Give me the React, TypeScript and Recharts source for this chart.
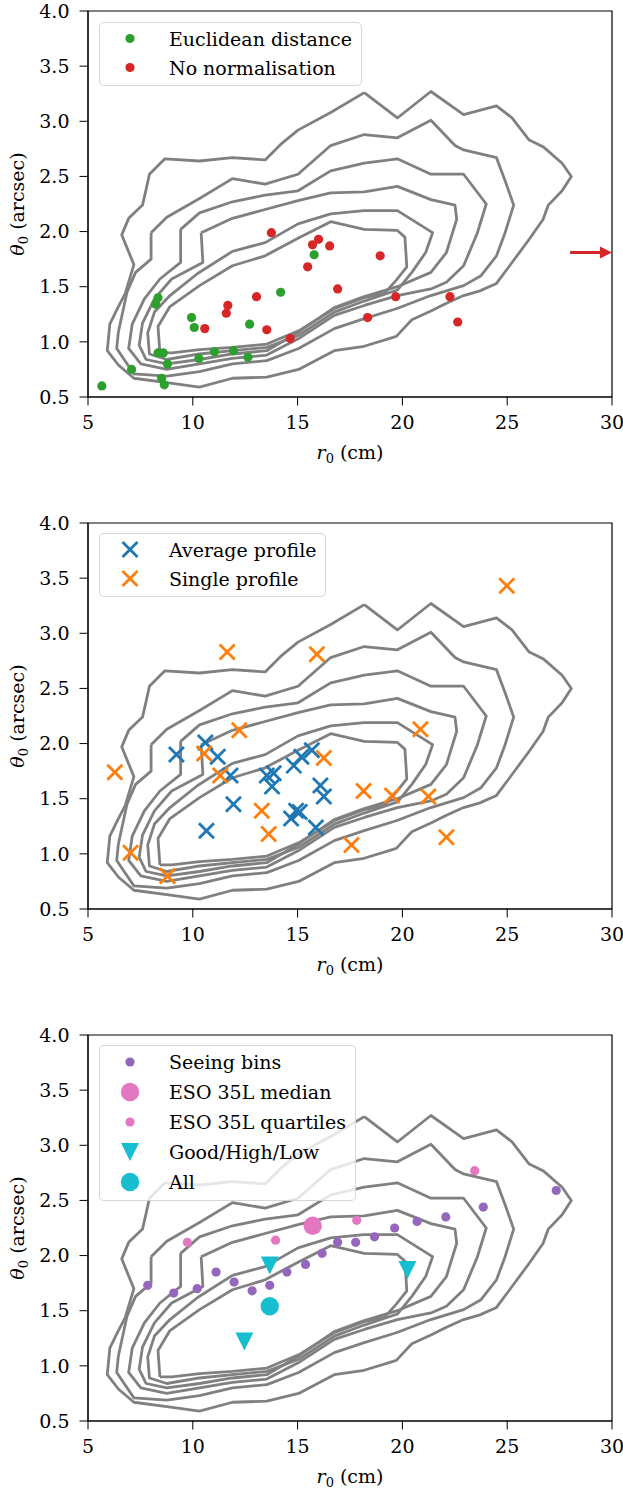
import { Legend, ReferenceArea, Scatter, ScatterChart, XAxis, YAxis } from "recharts";

const FONT = "'DejaVu Serif', serif";
const GREY = "#808080";

// axis ticks
const xTicks = [5, 10, 15, 20, 25, 30];
const yTicks = [0.5, 1.0, 1.5, 2.0, 2.5, 3.0, 3.5, 4.0];

// density contours (r0 cm, theta0 arcsec), outermost first
const contour1 = [[18.18,3.26],[19.76,3.03],[21.36,3.27],[22.92,3.06],[24.49,3.14],[25.23,3.03],[26.05,2.83],[26.71,2.77],[27.62,2.62],[28.06,2.5],[27.62,2.37],[26.96,2.24],[26.71,2.11],[26.05,1.93],[25.31,1.74],[24.49,1.53],[23.67,1.46],[22.92,1.42],[22.1,1.35],[21.36,1.28],[20.45,1.2],[19.71,1.05],[18.18,0.96],[16.75,0.92],[15.05,0.75],[13.53,0.68],[11.89,0.67],[10.32,0.59],[8.76,0.63],[7.19,0.67],[6.45,0.79],[5.92,0.92],[6.04,1.16],[6.45,1.32],[6.78,1.44],[7.19,1.7],[6.61,1.97],[6.94,2.12],[7.6,2.24],[7.77,2.38],[7.93,2.52],[8.67,2.66],[10.32,2.64],[11.89,2.67],[13.45,2.65],[14.19,2.79],[15.02,2.92],[16.58,3.08]];
const contour2 = [[8.01,1.99],[8.76,2.13],[10.32,2.3],[11.89,2.48],[13.45,2.43],[15.02,2.52],[16.58,2.78],[18.18,2.88],[19.76,2.85],[21.36,3.01],[22.51,2.78],[22.92,2.74],[24.49,2.67],[24.9,2.46],[25.31,2.24],[24.9,1.99],[24.49,1.78],[23.75,1.6],[22.92,1.51],[21.36,1.42],[19.71,1.3],[18.18,1.21],[16.75,1.12],[15.05,0.94],[13.53,0.83],[11.89,0.8],[10.32,0.73],[8.76,0.69],[7.19,0.71],[6.37,0.94],[6.45,1.09],[6.86,1.45],[7.27,1.63],[8.01,1.75]];
const contour3 = [[9.42,2.02],[10.32,2.17],[11.89,2.27],[13.45,2.33],[15.02,2.37],[16.58,2.55],[18.18,2.62],[19.76,2.66],[21.36,2.52],[22.92,2.52],[24.0,2.25],[23.58,1.99],[22.92,1.69],[22.1,1.54],[21.36,1.48],[19.76,1.42],[18.18,1.33],[16.75,1.24],[15.05,1.03],[13.53,0.88],[11.89,0.85],[10.32,0.8],[8.76,0.75],[7.52,0.8],[6.94,0.94],[7.11,1.16],[7.69,1.39],[8.43,1.57],[9.42,1.72]];
const contour4 = [[10.4,1.99],[11.89,2.12],[13.45,2.2],[15.02,2.28],[16.58,2.35],[18.18,2.36],[19.76,2.41],[21.36,2.29],[22.51,2.24],[22.59,2.11],[22.1,1.81],[21.36,1.63],[19.76,1.5],[18.18,1.41],[16.75,1.31],[15.05,1.09],[13.53,0.92],[11.89,0.89],[10.32,0.84],[8.76,0.8],[7.77,0.84],[7.44,0.97],[7.6,1.17],[8.17,1.39],[8.99,1.57],[10.48,1.72]];
const contour5 = [[11.89,1.82],[13.45,1.9],[15.02,2.07],[16.58,2.16],[18.18,2.19],[19.76,2.19],[21.44,1.99],[21.11,1.81],[20.45,1.63],[19.76,1.47],[18.18,1.37],[16.75,1.27],[15.05,1.06],[13.53,0.95],[11.89,0.92],[10.32,0.89],[8.76,0.84],[7.93,0.89],[7.85,1.08],[8.17,1.27],[8.91,1.42],[10.23,1.62]];
const contour6 = [[8.43,0.9],[8.34,1.14],[8.91,1.32],[10.32,1.51],[11.89,1.69],[13.45,1.78],[15.02,1.94],[16.58,2.09],[18.18,2.02],[19.76,2.01],[20.12,1.95],[20.21,1.68],[19.71,1.56],[19.14,1.44],[18.18,1.4],[16.75,1.3],[15.05,1.1],[13.53,0.98],[11.89,0.95],[10.32,0.93],[9.0,0.9]];
const contours = [contour1, contour2, contour3, contour4, contour5, contour6];

// panel 1
const euclidean = [[5.66,0.6],[7.08,0.75],[8.51,0.67],[8.64,0.61],[8.34,1.4],[8.23,1.34],[8.34,0.9],[8.59,0.9],[8.79,0.8],[9.94,1.22],[10.07,1.13],[10.29,0.85],[11.03,0.91],[11.94,0.92],[12.63,0.86],[12.71,1.16],[14.19,1.45],[15.79,1.79]];
const noNormalisation = [[13.75,1.99],[15.71,1.88],[16.0,1.93],[16.53,1.87],[18.94,1.78],[15.48,1.68],[16.91,1.48],[13.04,1.41],[11.67,1.33],[11.6,1.26],[10.57,1.12],[13.53,1.11],[14.65,1.03],[18.34,1.22],[19.68,1.41],[22.27,1.41],[22.64,1.18]];
const offChartShaft = [[28.0,1.81],[29.5,1.81]];
const offChartHead = [[30,1.81]];

// panel 2
const averageProfile = [[9.22,1.9],[10.6,2.01],[11.19,1.88],[11.8,1.71],[11.94,1.45],[10.65,1.21],[13.53,1.71],[13.86,1.73],[13.78,1.61],[14.82,1.8],[15.18,1.88],[15.68,1.94],[16.09,1.62],[16.25,1.52],[14.93,1.39],[14.69,1.32],[15.1,1.38],[15.87,1.24]];
const singleProfile = [[24.98,3.43],[11.64,2.83],[15.92,2.81],[12.22,2.12],[20.86,2.13],[10.54,1.91],[6.28,1.74],[11.31,1.71],[16.25,1.87],[18.15,1.57],[19.51,1.53],[21.24,1.52],[13.29,1.39],[13.62,1.18],[17.57,1.08],[22.1,1.15],[7.03,1.01],[8.79,0.8]];

// panel 3
const seeingBins = [[7.85,1.73],[9.09,1.66],[10.21,1.7],[11.11,1.85],[11.97,1.76],[12.83,1.68],[13.67,1.73],[14.49,1.85],[15.38,1.92],[16.17,2.02],[16.91,2.12],[17.77,2.12],[18.67,2.17],[19.63,2.25],[20.7,2.31],[22.07,2.35],[23.86,2.44],[27.34,2.59]];
const esoMedian = [[15.72,2.27]];
const esoQuartiles = [[9.74,2.12],[13.95,2.14],[17.82,2.32],[23.45,2.77]];
const goodHighLow = [[13.67,1.91],[20.24,1.87],[12.46,1.22]];
const allNights = [[13.67,1.54]];

const pts = (arr: number[][]) => arr.map(([x, y]) => ({ x, y }));
const closed = (arr: number[][]) => pts([...arr, arr[0]]);

const COLORS = {
  green: "#2ca02c",
  red: "#d62728",
  blue: "#1f77b4",
  orange: "#ff7f0e",
  purple: "#9467bd",
  pink: "#e377c2",
  cyan: "#17becf",
};

type Marker = { kind: "dot" | "cross" | "tri"; color: string; size: number };

function drawMarker(m: Marker, cx: number, cy: number) {
  if (m.kind === "dot") return <circle cx={cx} cy={cy} r={m.size} fill={m.color} />;
  if (m.kind === "cross") {
    const s = m.size;
    return (
      <g stroke={m.color} strokeWidth={2.8}>
        <line x1={cx - s} y1={cy - s} x2={cx + s} y2={cy + s} />
        <line x1={cx - s} y1={cy + s} x2={cx + s} y2={cy - s} />
      </g>
    );
  }
  const s = m.size;
  return <polygon points={`${cx},${cy + s} ${cx - s},${cy - s} ${cx + s},${cy - s}`} fill={m.color} />;
}

const shapeOf = (m: Marker) => (p: any) => drawMarker(m, p.cx, p.cy);
const noShape = () => <g />;
const arrowHead = (p: any) => (
  <polygon points={`${p.cx},${p.cy} ${p.cx - 12},${p.cy - 6} ${p.cx - 12},${p.cy + 6}`} fill={COLORS.red} />
);

const XLabel = (props: any) => {
  const vb = props.viewBox || { x: 88, y: 397, width: 524 };
  return (
    <text x={vb.x + vb.width / 2} y={vb.y + 62} textAnchor="middle" fontFamily={FONT} fontSize={19} fill="#000">
      <tspan fontStyle="italic">r</tspan>
      <tspan fontSize={13} dy={4}>0</tspan>
      <tspan dy={-4}>{"\u00a0(cm)"}</tspan>
    </text>
  );
};

const YLabel = (props: any) => {
  const vb = props.viewBox || { y: 11, height: 386 };
  const cy = vb.y + vb.height / 2;
  return (
    <text x={24} y={cy} transform={`rotate(-90, 24, ${cy})`} textAnchor="middle" fontFamily={FONT} fontSize={19} fill="#000">
      <tspan fontStyle="italic">θ</tspan>
      <tspan fontSize={13} dy={4}>0</tspan>
      <tspan dy={-4}>{"\u00a0(arcsec)"}</tspan>
    </text>
  );
};

type Entry = { label: string; marker: Marker };

function LegendBox({ entries, rowHeight }: { entries: Entry[]; rowHeight: number }) {
  return (
    <div
      style={{
        background: "rgba(255,255,255,0.8)",
        border: "1.5px solid rgba(204,204,204,0.8)",
        borderRadius: 5,
        padding: "1px 9px 3px 12px",
        fontFamily: FONT,
        fontSize: 19,
        color: "#000",
        whiteSpace: "nowrap",
      }}
    >
      {entries.map((e) => (
        <div key={e.label} style={{ display: "flex", alignItems: "center", height: rowHeight }}>
          <svg width={36} height={rowHeight} style={{ marginRight: 21, flex: "none" }}>
            {drawMarker(e.marker, 18, rowHeight / 2)}
          </svg>
          <span>{e.label}</span>
        </div>
      ))}
    </div>
  );
}

function Panel({ children, legend, rowHeight, legendTop }: { children: any; legend: Entry[]; rowHeight: number; legendTop: number }) {
  return (
    <ScatterChart width={623} height={512} margin={{ top: 11, right: 11, bottom: 0, left: 0 }}>
      <XAxis
        type="number"
        dataKey="x"
        domain={[5, 30]}
        ticks={xTicks}
        allowDataOverflow
        height={115}
        tickSize={8.5}
        tickMargin={10}
        tick={{ fill: "#000", fontSize: 19, fontFamily: FONT }}
        axisLine={{ stroke: "#000" }}
        tickLine={{ stroke: "#000" }}
        label={<XLabel />}
      />
      <YAxis
        type="number"
        dataKey="y"
        domain={[0.5, 4]}
        ticks={yTicks}
        allowDataOverflow
        width={88}
        tickSize={8.5}
        tickMargin={10}
        tickFormatter={(v: number) => v.toFixed(1)}
        tick={{ fill: "#000", fontSize: 19, fontFamily: FONT }}
        axisLine={{ stroke: "#000" }}
        tickLine={{ stroke: "#000" }}
        label={<YLabel />}
      />
      {contours.map((c, i) => (
        <Scatter
          key={`c${i}`}
          data={closed(c)}
          line={{ stroke: GREY, strokeWidth: 2.8, strokeLinejoin: "round" }}
          shape={noShape}
          isAnimationActive={false}
        />
      ))}
      {children}
      <ReferenceArea x1={5} x2={30} y1={0.5} y2={4} fill="none" stroke="#000" strokeWidth={1.2} ifOverflow="visible" />
      <Legend
        layout="vertical"
        align="center"
        verticalAlign="middle"
        wrapperStyle={{ left: 99, top: legendTop, width: "auto" }}
        content={() => <LegendBox entries={legend} rowHeight={rowHeight} />}
      />
    </ScatterChart>
  );
}

const mGreen: Marker = { kind: "dot", color: COLORS.green, size: 4.6 };
const mRed: Marker = { kind: "dot", color: COLORS.red, size: 4.6 };
const mBlue: Marker = { kind: "cross", color: COLORS.blue, size: 7.5 };
const mOrange: Marker = { kind: "cross", color: COLORS.orange, size: 7.5 };
const mPurple: Marker = { kind: "dot", color: COLORS.purple, size: 4.6 };
const mPinkBig: Marker = { kind: "dot", color: COLORS.pink, size: 9.2 };
const mPink: Marker = { kind: "dot", color: COLORS.pink, size: 4.6 };
const mTri: Marker = { kind: "tri", color: COLORS.cyan, size: 9 };
const mCyanBig: Marker = { kind: "dot", color: COLORS.cyan, size: 9.2 };

export default function App() {
  return (
    <div style={{ position: "absolute", left: 0, top: 0, width: 623, height: 1491, background: "#fff" }}>
      <Panel
        legendTop={22}
        rowHeight={29}
        legend={[
          { label: "Euclidean distance", marker: mGreen },
          { label: "No normalisation", marker: mRed },
        ]}
      >
        <Scatter data={pts(euclidean)} shape={shapeOf(mGreen)} isAnimationActive={false} />
        <Scatter data={pts(noNormalisation)} shape={shapeOf(mRed)} isAnimationActive={false} />
        <Scatter data={pts(offChartShaft)} line={{ stroke: COLORS.red, strokeWidth: 3 }} shape={noShape} isAnimationActive={false} />
        <Scatter data={pts(offChartHead)} shape={arrowHead} isAnimationActive={false} />
      </Panel>
      <Panel
        legendTop={21}
        rowHeight={29}
        legend={[
          { label: "Average profile", marker: mBlue },
          { label: "Single profile", marker: mOrange },
        ]}
      >
        <Scatter data={pts(averageProfile)} shape={shapeOf(mBlue)} isAnimationActive={false} />
        <Scatter data={pts(singleProfile)} shape={shapeOf(mOrange)} isAnimationActive={false} />
      </Panel>
      <Panel
        legendTop={21}
        rowHeight={30}
        legend={[
          { label: "Seeing bins", marker: mPurple },
          { label: "ESO 35L median", marker: mPinkBig },
          { label: "ESO 35L quartiles", marker: mPink },
          { label: "Good/High/Low", marker: mTri },
          { label: "All", marker: mCyanBig },
        ]}
      >
        <Scatter data={pts(seeingBins)} shape={shapeOf(mPurple)} isAnimationActive={false} />
        <Scatter data={pts(esoMedian)} shape={shapeOf(mPinkBig)} isAnimationActive={false} />
        <Scatter data={pts(esoQuartiles)} shape={shapeOf(mPink)} isAnimationActive={false} />
        <Scatter data={pts(goodHighLow)} shape={shapeOf(mTri)} isAnimationActive={false} />
        <Scatter data={pts(allNights)} shape={shapeOf(mCyanBig)} isAnimationActive={false} />
      </Panel>
    </div>
  );
}
